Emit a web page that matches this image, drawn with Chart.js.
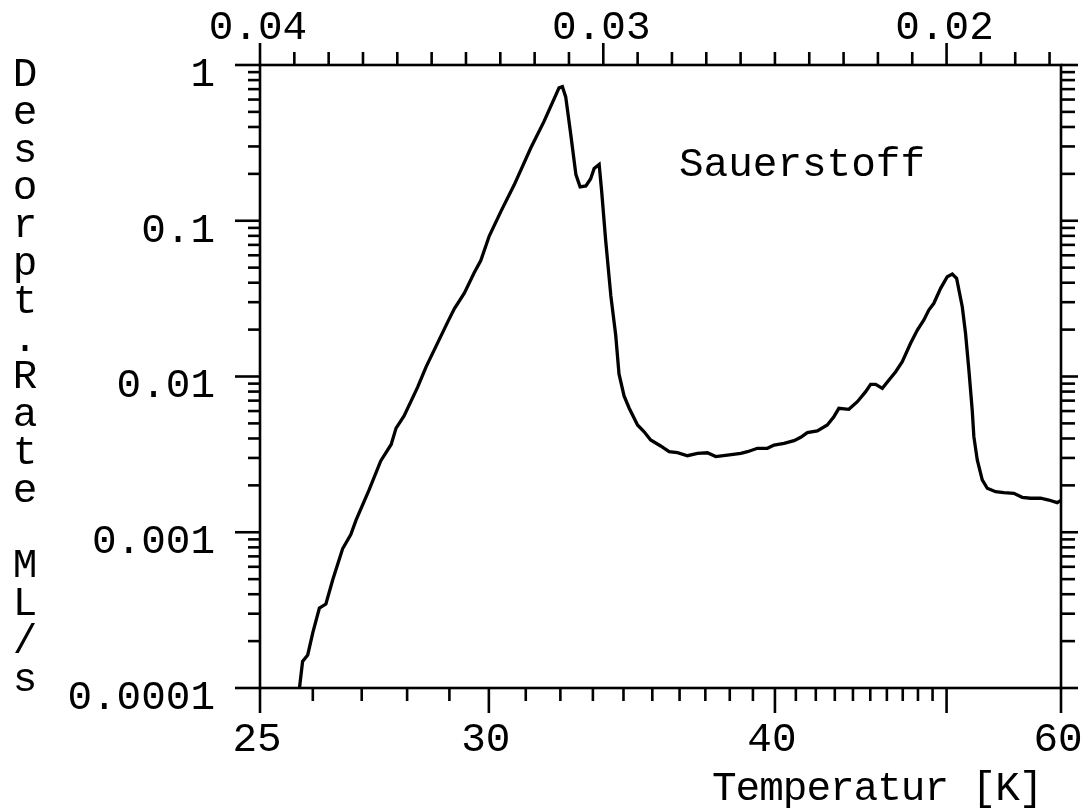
<!DOCTYPE html>
<html>
<head>
<meta charset="utf-8">
<script src="https://cdn.jsdelivr.net/npm/chart.js@4.4.1/dist/chart.umd.min.js"></script>
<style>
  html, body { margin: 0; padding: 0; background: #ffffff; }
  canvas { display: block; }
</style>
</head>
<body>
<canvas id="tpd" width="1082" height="811"></canvas>
<script>
// Thermal desorption spectrum of oxygen: temperature (K) and desorption rate (ML/s)
const temperatures = [
  25.74, 25.80, 25.90, 26.00, 26.13, 26.26, 26.40, 26.60, 26.77, 26.88,
  27.16, 27.41, 27.64, 27.75, 27.93, 28.24, 28.44, 28.96, 29.12, 29.37,
  29.62, 29.79, 30.01, 30.32, 30.68, 31.14, 31.52, 31.96, 32.06, 32.16,
  32.31, 32.47, 32.60, 32.78, 32.93, 33.04, 33.20, 33.28, 33.41, 33.58,
  33.74, 33.85, 34.02, 34.19, 34.48, 34.71, 34.94, 35.30, 35.61, 35.92,
  36.30, 36.69, 37.08, 37.42, 37.90, 38.47, 38.76, 39.20, 39.65, 39.96,
  40.43, 40.91, 41.24, 41.57, 42.08, 42.60, 42.95, 43.22, 43.77, 44.25,
  44.73, 45.02, 45.32, 45.72, 46.13, 46.55, 46.97, 47.51, 47.96, 48.40,
  48.74, 49.09, 49.57, 50.05, 50.42, 50.74, 51.17, 51.42, 51.68, 51.94,
  52.07, 52.34, 52.74, 53.15, 53.84, 54.55, 55.43, 56.19, 56.97, 57.93,
  58.75, 59.60, 60.00
];
const rates = [
  1.0e-4, 1.48e-4, 1.63e-4, 2.27e-4, 3.26e-4, 3.46e-4, 4.97e-4, 7.83e-4, 9.67e-4, 1.195e-3,
  1.88e-3, 2.87e-3, 3.66e-3, 4.66e-3, 5.58e-3, 8.52e-3, 0.01154, 0.02242, 0.02721, 0.03426,
  0.04632, 0.05556, 0.0798, 0.1148, 0.1701, 0.2932, 0.4344, 0.7128, 0.7256, 0.624,
  0.3622, 0.1978, 0.165, 0.1672, 0.1862, 0.2165, 0.23, 0.1552, 0.0752, 0.0329,
  0.01847, 0.01038, 0.0075, 0.00628, 0.00488, 0.00442, 0.00391, 0.00358, 0.00329, 0.00324,
  0.0031, 0.00321, 0.00324, 0.00306, 0.00313, 0.00321, 0.00329, 0.00346, 0.00346, 0.00363,
  0.00372, 0.00387, 0.00407, 0.00436, 0.00447, 0.00488, 0.00552, 0.00625, 0.00616, 0.00689,
  0.00799, 0.00891, 0.00891, 0.0084, 0.0095, 0.01074, 0.01245, 0.01633, 0.01989, 0.02306,
  0.02673, 0.02951, 0.03683, 0.04374, 0.0455, 0.04271, 0.02806, 0.01894, 0.011, 0.00609,
  0.00411, 0.00291, 0.002166, 0.001915, 0.00182, 0.001795, 0.001779, 0.001677, 0.001653, 0.001653,
  0.00161, 0.001548, 0.0016
];

// Bottom axis: temperature ticks (placed at 1/T)
const bottomTickTemps = [25, 26, 27, 28, 29, 30, 31, 32, 33, 34, 35, 36, 37, 38, 39,
                         40, 41, 42, 43, 44, 45, 46, 47, 48, 49, 50, 60];
const bottomLongTemps = [25, 30, 40, 50, 60];
const bottomLabelTemps = [25, 30, 40, 60];

// Top axis: inverse temperature 1/T (1/K)
const topTickValues = [0.040, 0.039, 0.038, 0.037, 0.036, 0.035, 0.034, 0.033, 0.032, 0.031,
                       0.030, 0.029, 0.028, 0.027, 0.026, 0.025, 0.024, 0.023, 0.022, 0.021,
                       0.020, 0.019, 0.018, 0.017];
const topLabelValues = [0.04, 0.03, 0.02];

// Left axis: logarithmic rate
const yTickValues = [0.0001, 0.001, 0.01, 0.1, 1];
const yTickLabels = ['0.0001', '0.001', '0.01', '0.1', '1'];

const yAxisTitle = 'Desorpt.Rate ML/s';
const xAxisTitle = 'Temperatur [K]';
const curveLabel = 'Sauerstoff';

const FONT_FAMILY = '"Liberation Mono", "DejaVu Sans Mono", monospace';
const FONT_SIZE = 41;

const points = temperatures.map((t, i) => ({ x: 1 / t, y: rates[i] }));

const near = (a, b) => Math.abs(a - b) < 1e-9;

// Frame, tick marks and free text drawn on top of the scales
const plotDecor = {
  id: 'plotDecor',
  afterDraw(chart) {
    const { ctx, chartArea: { left, right, top, bottom } } = chart;
    const xs = chart.scales.x, xt = chart.scales.xTop, ys = chart.scales.y;
    ctx.save();
    ctx.strokeStyle = '#000';
    ctx.lineWidth = 2.6;
    ctx.lineCap = 'butt';
    const seg = (x1, y1, x2, y2) => { ctx.beginPath(); ctx.moveTo(x1, y1); ctx.lineTo(x2, y2); ctx.stroke(); };

    ctx.strokeRect(left, top, right - left, bottom - top);

    bottomTickTemps.forEach(t => {
      const px = xs.getPixelForValue(1 / t);
      const len = bottomLongTemps.includes(t) ? 25 : 13;
      seg(px, bottom, px, bottom + len);
    });
    topTickValues.forEach(v => {
      const px = xt.getPixelForValue(v);
      const len = topLabelValues.some(m => near(m, v)) ? 22 : 13;
      seg(px, top, px, top - len);
    });
    yTickValues.forEach((dec, k) => {
      for (let m = 1; m <= 9; m++) {
        const v = dec * m;
        if (v > 1 + 1e-9) break;
        if (k === yTickValues.length - 1 && m > 1) break;
        const py = ys.getPixelForValue(v);
        const major = m === 1;
        seg(left - (major ? 25 : 12), py, left, py);
        seg(right, py, right + (major ? 17 : 14), py);
      }
    });

    ctx.fillStyle = '#000';
    ctx.font = FONT_SIZE + 'px ' + FONT_FAMILY;
    ctx.textBaseline = 'alphabetic';

    // vertical title, one character per line
    ctx.textAlign = 'center';
    [...yAxisTitle].forEach((ch, i) => {
      ctx.fillText(ch, 25, 86 + i * 37.8);
    });

    ctx.textAlign = 'left';
    ctx.fillText(curveLabel, 679, 176);
    ctx.letterSpacing = '-1px';
    ctx.textAlign = 'left';
    ctx.fillText(xAxisTitle, 712, 800);
    ctx.letterSpacing = '0px';
    ctx.restore();
  }
};

const tickFont = { family: FONT_FAMILY, size: FONT_SIZE };

new Chart(document.getElementById('tpd'), {
  type: 'line',
  data: {
    datasets: [{
      label: curveLabel,
      data: points,
      borderColor: '#000',
      borderWidth: 3.3,
      pointRadius: 0,
      tension: 0,
      fill: false
    }]
  },
  options: {
    responsive: false,
    animation: false,
    devicePixelRatio: 1,
    layout: { padding: { left: 0, right: 21, top: 0, bottom: 0 } },
    plugins: { legend: { display: false }, tooltip: { enabled: false } },
    scales: {
      x: {
        type: 'linear',
        position: 'bottom',
        reverse: true,
        min: 1 / 60,
        max: 1 / 25,
        grid: { display: false, drawTicks: false },
        border: { display: false },
        afterBuildTicks: s => { s.ticks = bottomLabelTemps.map(t => ({ value: 1 / t })); },
        afterFit: s => { s.height = 123; s.paddingLeft = 0; s.paddingRight = 0; },
        ticks: {
          autoSkip: false,
          maxRotation: 0,
          padding: 28,
          labelOffset: -3,
          color: '#000',
          font: tickFont,
          callback: v => String(Math.round(1 / v))
        }
      },
      xTop: {
        type: 'linear',
        position: 'top',
        reverse: true,
        min: 1 / 60,
        max: 1 / 25,
        grid: { display: false, drawTicks: false },
        border: { display: false },
        afterBuildTicks: s => { s.ticks = topLabelValues.map(v => ({ value: v })); },
        afterFit: s => { s.height = 65; s.paddingLeft = 0; s.paddingRight = 0; },
        ticks: {
          autoSkip: false,
          maxRotation: 0,
          padding: 12,
          labelOffset: -2,
          color: '#000',
          font: tickFont,
          callback: v => v.toFixed(2)
        }
      },
      y: {
        type: 'logarithmic',
        position: 'left',
        min: 0.0001,
        max: 1,
        grid: { display: false, drawTicks: false },
        border: { display: false },
        afterBuildTicks: s => { s.ticks = yTickValues.map(v => ({ value: v })); },
        afterFit: s => { s.width = 260; s.paddingTop = 0; s.paddingBottom = 0; },
        ticks: {
          autoSkip: false,
          padding: 45,
          labelOffset: 10,
          color: '#000',
          font: tickFont,
          callback: v => {
            const k = yTickValues.findIndex(d => Math.abs(d - v) / d < 1e-6);
            return k >= 0 ? yTickLabels[k] : '';
          }
        }
      }
    }
  },
  plugins: [plotDecor]
});
</script>
</body>
</html>
